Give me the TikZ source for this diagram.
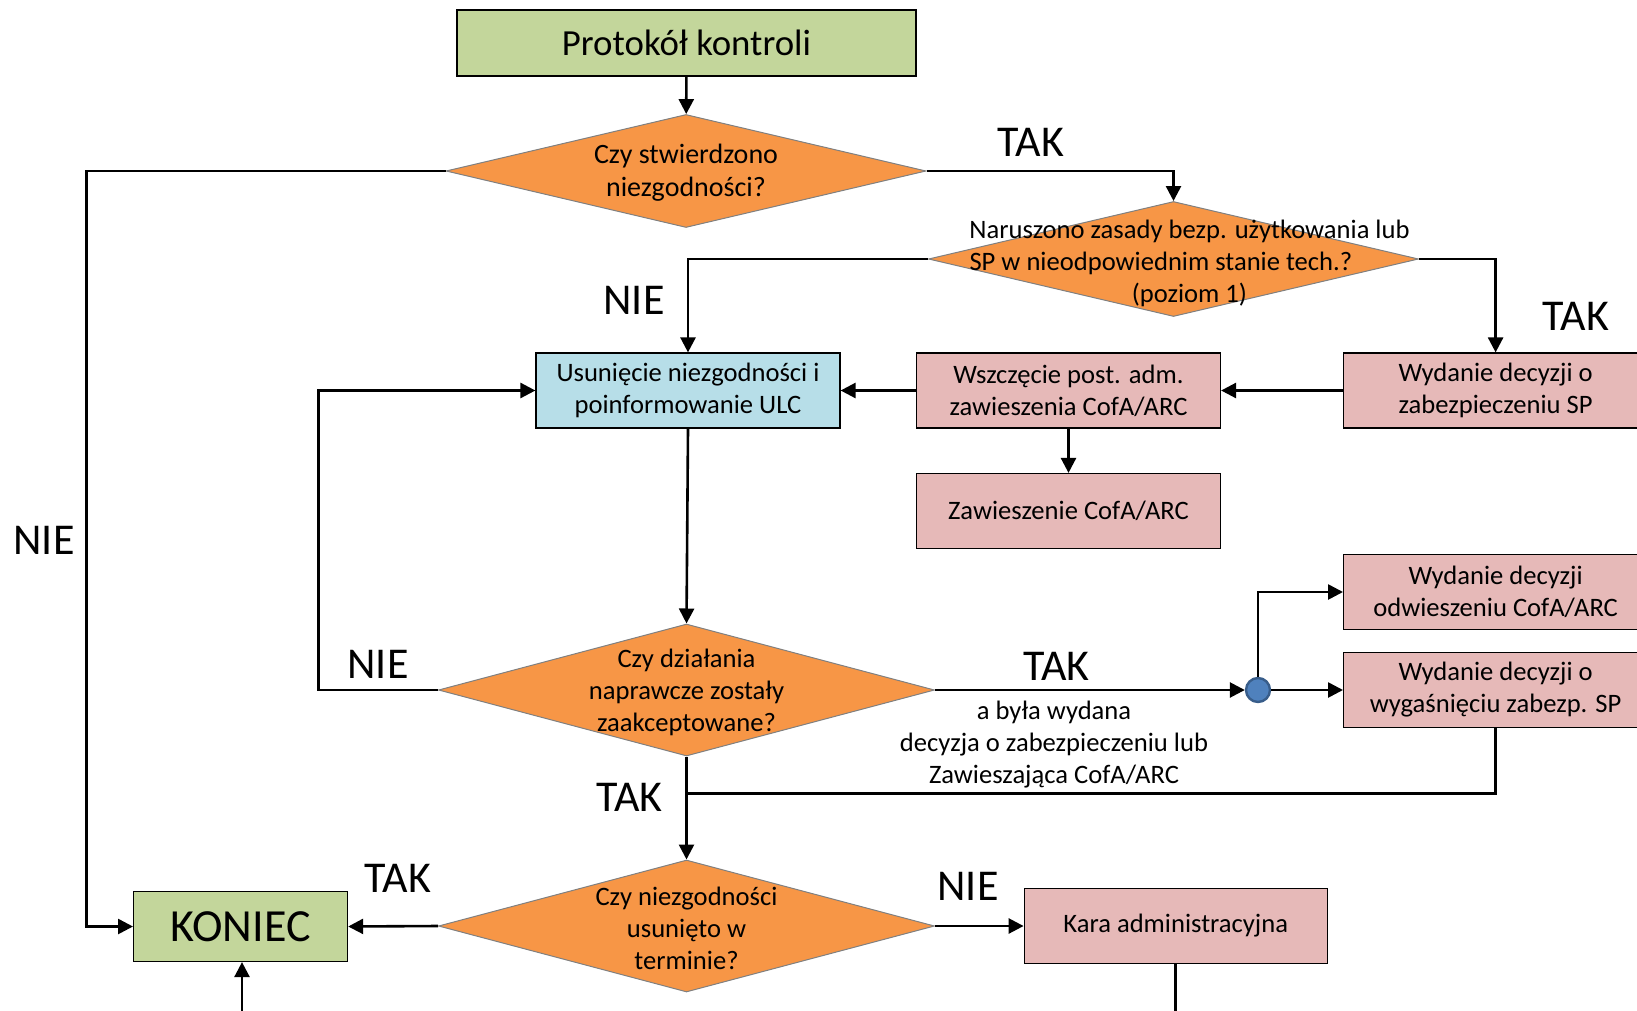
\documentclass[tikz,border=0pt]{standalone}
\usepackage{fontspec}
\setmainfont{Carlito}
\usetikzlibrary{shapes.geometric}
\usetikzlibrary{arrows.meta}

\definecolor{olivefill}{HTML}{C3D69B}
\definecolor{orangefill}{HTML}{F79646}
\definecolor{bluefill}{HTML}{B7DEE8}
\definecolor{pinkfill}{HTML}{E6B9B8}
\definecolor{dotfill}{HTML}{4F81BD}
\definecolor{dotline}{HTML}{385D8A}

\begin{document}
\begin{tikzpicture}[x=0.5pt,y=-0.5pt,
	every node/.style={font=\fontsize{13.3}{16}\selectfont,align=center,inner sep=0pt},
	box/.style={rectangle,draw=black,line width=0.6pt,minimum width=152pt,minimum height=37.5pt},
	greenbox/.style={box,fill=olivefill},
	pinkbox/.style={box,fill=pinkfill},
	bluebox/.style={box,fill=bluefill},
	decision/.style={diamond,draw=gray,line width=0.5pt,fill=orangefill},
	answer/.style={font=\fontsize{22}{26}\selectfont},
	conn/.style={line width=1.3pt},
	arr/.style={conn,-{Triangle[length=7.5pt,width=7.5pt]}}
	]
	\useasboundingbox (0,0) rectangle (1637,1011);

	% boxes and questions
	\node[greenbox,minimum width=229.5pt,minimum height=33pt,font=\fontsize{18.4}{22}\selectfont] (proto) at (686.5,43) {Protokół kontroli};
	\node[decision,minimum width=240pt,minimum height=56.5pt,
		label={[font=\fontsize{14}{16.5}\selectfont,yshift=-1pt]center:{Czy stwierdzono\\niezgodności?}}] (q1) at (686,171) {};
	\node[decision,minimum width=245pt,minimum height=57.5pt,
		label={[xshift=8pt,yshift=-2pt]center:{Naruszono zasady bezp. użytkowania lub\\\makebox[220pt][l]{SP w nieodpowiednim stanie tech.?}\\(poziom 1)}}] (q2) at (1173.5,259) {};
	\node[bluebox] (usun) at (688,390.5) {Usunięcie niezgodności i\\poinformowanie ULC};
	\node[pinkbox] (wszcz) at (1068.5,390.5) {Wszczęcie post. adm.\\zawieszenia CofA/ARC};
	\node[pinkbox] (zabezp) at (1495.6,390.5) {Wydanie decyzji o\\zabezpieczeniu SP};
	\node[pinkbox] (zawiesz) at (1068.5,511) {Zawieszenie CofA/ARC};
	\node[pinkbox] (odwiesz) at (1495.6,592) {Wydanie decyzji\\odwieszeniu CofA/ARC};
	\node[pinkbox] (wygas) at (1495.6,690) {Wydanie decyzji o\\wygaśnięciu zabezp. SP};
	\node[decision,minimum width=248pt,minimum height=66pt,
		label={[yshift=-1pt]center:{Czy działania\\naprawcze zostały\\zaakceptowane?}}] (q3) at (686.5,690) {};
	\node[decision,minimum width=248pt,minimum height=66pt,
		label={[yshift=-1pt]center:{Czy niezgodności\\usunięto w\\terminie?}}] (q4) at (686.5,926) {};
	\node[greenbox,minimum width=107pt,minimum height=35pt,font=\fontsize{23}{27}\selectfont] (koniec) at (240.6,926.5) {KONIEC};
	\node[pinkbox,minimum width=151.5pt] (kara) at (1175.7,926) {Kara administracyjna};
	\node[circle,draw=dotline,line width=1.2pt,fill=dotfill,minimum size=12pt] (dot) at (1258,690) {};

	% connector corners
	\coordinate (nieL) at (86.7,171);
	\coordinate (loopL) at (318.4,690);
	\coordinate (join) at (686.5,793.4);
	\coordinate (karaout) at (1175.7,1020);
	\coordinate (konin) at (242,1020);

	% connectors
	\draw[arr] (proto) -- (q1);
	\draw[arr] (q1.east) -| (q2.north);
	\draw[arr] (q1.west) -- (nieL) |- (koniec.west);
	\draw[arr] (q2.west) -| (usun.north);
	\draw[arr] (q2.east) -| (zabezp.north);
	\draw[arr] (zabezp) -- (wszcz);
	\draw[arr] (wszcz) -- (usun);
	\draw[arr] (wszcz) -- (zawiesz);
	\draw[arr] (usun.south) -- (q3.north);
	\draw[arr] (q3.west) -- (loopL) |- (usun.west);
	\draw[arr] (q3.east) -- (dot.west);
	\draw[arr] (dot.east) -- (wygas.west);
	\draw[arr] (dot.north) |- (odwiesz.west);
	\draw[conn] (wygas.south) |- (join);
	\draw[arr] (q3.south) -- (q4.north);
	\draw[arr] (q4.west) -- (koniec.east);
	\draw[arr] (q4.east) -- (kara.west);
	\draw[conn] (kara.south) -- (karaout);
	\draw[arr] (konin) -- (konin |- koniec.south);

	% answers
	\node[answer] (tak1) at (1031,142) {TAK};
	\node[answer] (nie1) at (44,540) {NIE};
	\node[answer] (nie2) at (634,300) {NIE};
	\node[answer] (tak2) at (1576,316) {TAK};
	\node[answer] (nie3) at (378,664) {NIE};
	\node[answer] (tak3) at (1056.5,666) {TAK};
	\node (warunek) at (1054,745) {a była wydana\\decyzja o zabezpieczeniu lub\\Zawieszająca CofA/ARC};
	\node[answer] (tak4) at (629.5,797.6) {TAK};
	\node[answer] (tak5) at (397.8,878) {TAK};
	\node[answer] (nie4) at (968,886) {NIE};
\end{tikzpicture}
\end{document}
